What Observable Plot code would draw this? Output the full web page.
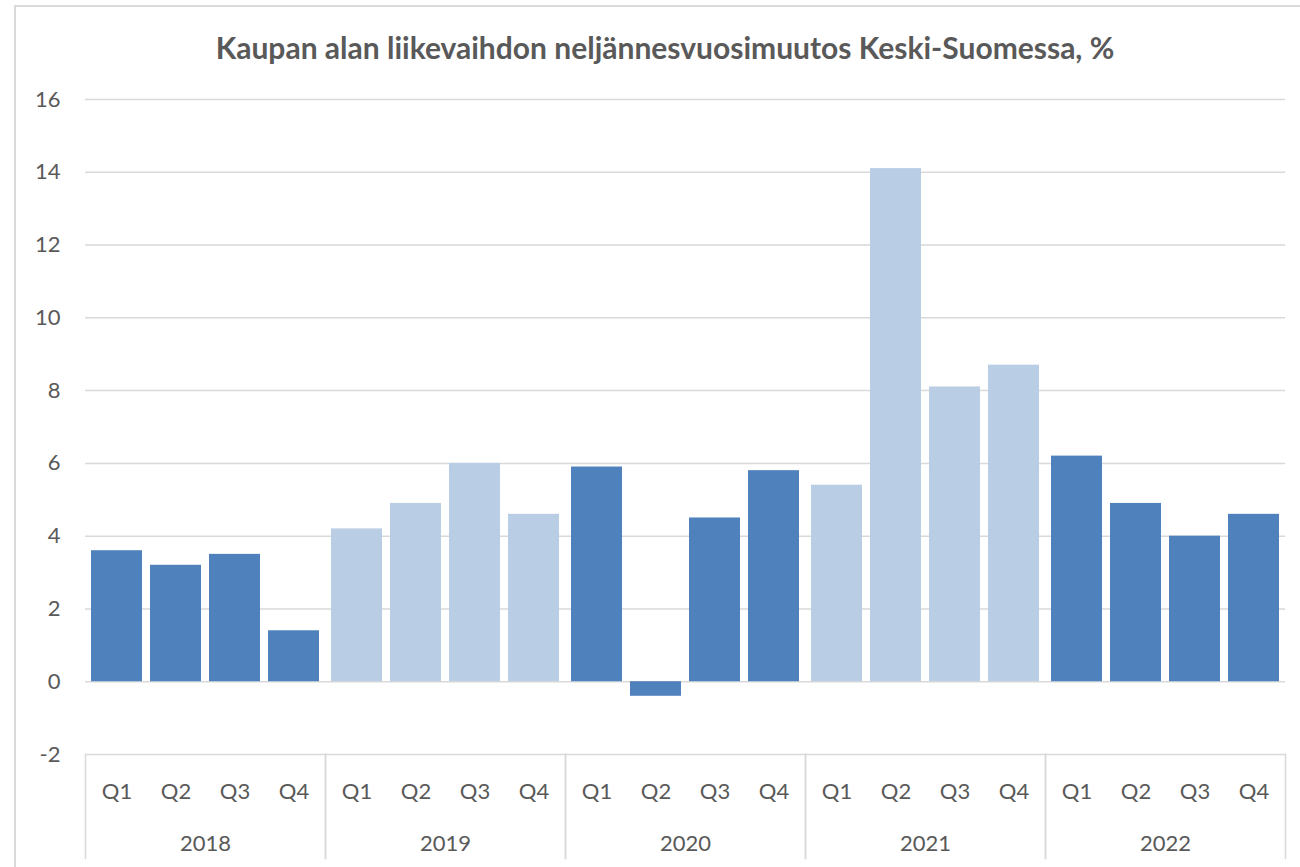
<!DOCTYPE html>
<html>
<head>
<meta charset="utf-8">
<script src="https://cdn.jsdelivr.net/npm/d3@7"></script>
<script src="https://cdn.jsdelivr.net/npm/@observablehq/plot@0.6"></script>
<style>
  html, body { margin: 0; padding: 0; background: #fff; }
  #wrap { position: relative; width: 1300px; height: 867px; overflow: hidden; }
  #border { position: absolute; left: 14px; top: 5px; width: 1400px; height: 1000px;
            border-top: 2px solid #D9D9D9; border-left: 2px solid #D9D9D9; box-sizing: border-box; }
  #title { position: absolute; left: 0; top: 0; width: 1330px; height: 80px; line-height: 94px;
           text-align: center; font-family: Lato, "Open Sans", sans-serif; font-weight: bold;
           font-size: 30px; color: #595959; }
  #chart { position: absolute; left: 0; top: 80px; }
</style>
</head>
<body>
<div id="wrap">
  <div id="border"></div>
  <div id="title">Kaupan alan liikevaihdon neljännesvuosimuutos Keski-Suomessa, %</div>
  <div id="chart"></div>
</div>
<script>
const years = ["2018", "2019", "2020", "2021", "2022"];
const quarters = ["Q1", "Q2", "Q3", "Q4"];
const values2018 = [3.6, 3.2, 3.5, 1.4];
const values2019 = [4.2, 4.9, 6.0, 4.6];
const values2020 = [5.9, -0.4, 4.5, 5.8];
const values2021 = [5.4, 14.1, 8.1, 8.7];
const values2022 = [6.2, 4.9, 4.0, 4.6];
const yTicks = [-2, 0, 2, 4, 6, 8, 10, 12, 14, 16];

const valuesByYear = [values2018, values2019, values2020, values2021, values2022];
const rows = years.flatMap((year, i) =>
  quarters.map((q, j) => ({year, q, value: valuesByYear[i][j]}))
);

const dark = "#4F81BD";
const light = "#B9CDE5";
const grid = "#D9D9D9";

const chart = Plot.plot({
  width: 1300,
  height: 787,
  marginTop: 19,
  marginBottom: 113,
  marginLeft: 85,
  marginRight: 15,
  style: {fontFamily: "Lato, 'Open Sans', sans-serif", fontSize: "22px", color: "#595959", background: "transparent"},
  fx: {domain: years, padding: 0, label: null},
  x: {domain: quarters, paddingInner: 0.133, paddingOuter: 0.067, label: null},
  y: {domain: [-2, 16], label: null},
  color: {domain: years, range: [dark, light, dark, light, dark]},
  marks: [
    Plot.gridY(yTicks, {stroke: grid, strokeOpacity: 1, strokeWidth: 1.5}),
    Plot.barY(rows, {fx: "year", x: "q", y: "value", fill: "year"}),
    Plot.frame({anchor: "left", stroke: grid, strokeWidth: 1.5, insetTop: 655, insetBottom: -104}),
    Plot.frame({anchor: "right", stroke: grid, strokeWidth: 1.5, insetTop: 655, insetBottom: -104}),
    Plot.axisY(yTicks, {tickSize: 0, tickPadding: 25, fontSize: 22, label: null, tickFormat: d => d < 0 ? "-" + Math.abs(d) : String(d)}),
    Plot.axisX({anchor: "bottom", tickSize: 0, tickPadding: 29, fontSize: 22, label: null}),
    Plot.axisFx({anchor: "bottom", tickSize: 0, tickPadding: 81, fontSize: 22, label: null})
  ]
});
document.getElementById("chart").appendChild(chart);
</script>
</body>
</html>
